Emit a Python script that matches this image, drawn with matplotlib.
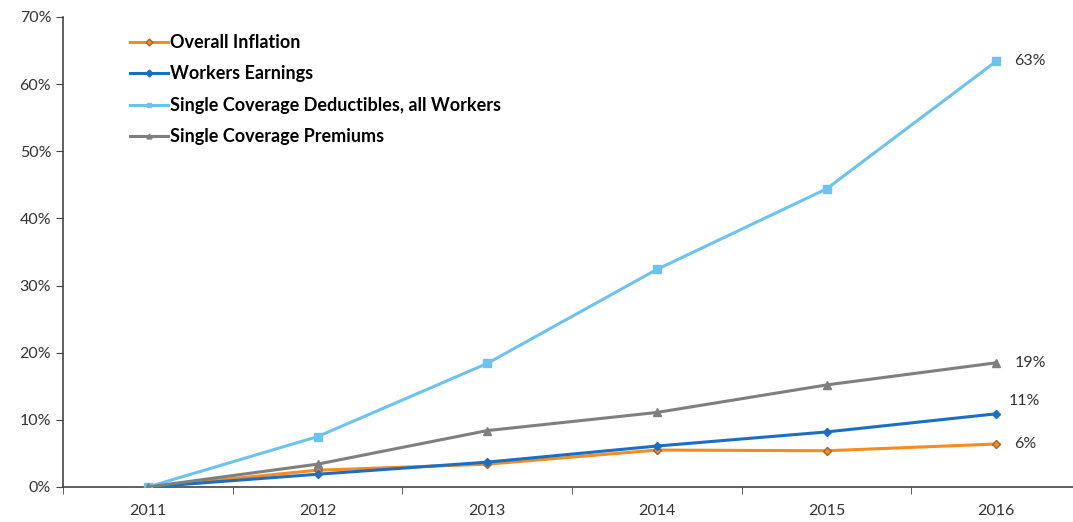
import matplotlib.pyplot as plt
from matplotlib.ticker import FuncFormatter

plt.rcParams["font.family"] = ["Lato", "DejaVu Sans"]

years = ["2011", "2012", "2013", "2014", "2015", "2016"]
inflation = [0, 2.5, 3.4, 5.5, 5.4, 6.4]
earnings = [0, 1.9, 3.7, 6.1, 8.2, 10.9]
deductibles = [0, 7.5, 18.4, 32.4, 44.4, 63.4]
premiums = [0, 3.4, 8.4, 11.1, 15.2, 18.5]
end_labels = ["6%", "11%", "63%", "19%"]

series = [
    ("Overall Inflation", inflation, "#F68B1F", "D", "#A0652A", 4),
    ("Workers Earnings", earnings, "#1A6FC4", "D", "#1A6FC4", 4.5),
    ("Single Coverage Deductibles, all Workers", deductibles, "#6EC3EE", "s", "#6EC3EE", 5.5),
    ("Single Coverage Premiums", premiums, "#7F7F7F", "^", "#7F7F7F", 5.5),
]

fig = plt.figure(figsize=(10.73, 5.22), dpi=100)
ax = fig.add_axes([63 / 1073, 35 / 522, 1018 / 1073, 470 / 522])

x = list(range(len(years)))
for label, values, color, marker, edge, msize in series:
    ax.plot(
        x, values,
        label=label,
        color=color,
        linewidth=2.2,
        marker=marker,
        markersize=msize,
        markerfacecolor=color,
        markeredgecolor=edge,
        markeredgewidth=1,
        zorder=3,
    )

# end-of-line value labels
offsets = [(13, 0), (9, 9), (13, 0), (13, 0)]
for (label, values, *_), text, off in zip(series, end_labels, offsets):
    ax.annotate(
        text,
        xy=(x[-1], values[-1]),
        xytext=off,
        textcoords="offset points",
        ha="left",
        va="center",
        fontsize=11.5,
        color="#333333",
    )

ax.set_xlim(-0.5, len(years) - 0.5)
ax.set_ylim(0, 70)
ax.set_yticks(range(0, 71, 10))
ax.yaxis.set_major_formatter(FuncFormatter(lambda v, p: f"{v:.0f}%"))

ax.set_xticks(x)
ax.set_xticklabels(years)
ax.set_xticks([i + 0.5 for i in x[:-1]] + [-0.5], minor=True)
ax.tick_params(axis="x", which="major", length=0, pad=12, labelsize=11.5, colors="#333333")
ax.tick_params(axis="x", which="minor", length=5, direction="out", color="#444444")
ax.tick_params(axis="y", length=5, direction="out", labelsize=11.5, colors="#333333", color="#444444")

for side in ["top", "right"]:
    ax.spines[side].set_visible(False)
for side in ["left", "bottom"]:
    ax.spines[side].set_color("#444444")
    ax.spines[side].set_linewidth(1.2)

leg = ax.legend(
    loc="upper left",
    bbox_to_anchor=(130 / 1073, 1 - 34 / 522),
    bbox_transform=fig.transFigure,
    frameon=False,
    prop={"weight": "bold", "size": 13},
    handlelength=2.1,
    handletextpad=0.1,
    labelspacing=0.8,
    borderaxespad=0,
    borderpad=0,
)
for line in leg.get_lines():
    line.set_markersize(3.5)

fig.savefig("out.png", dpi=100)
